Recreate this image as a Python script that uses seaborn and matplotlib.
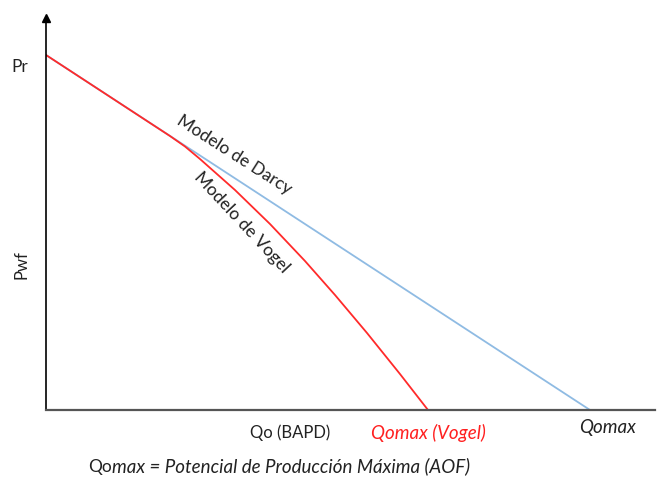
import matplotlib
matplotlib.use("Agg")
import matplotlib.pyplot as plt
import seaborn as sns
import pandas as pd

# Data (relative units: Pr = 100, Darcy Qomax = 100)
darcy_q = [0, 100]
darcy_p = [100, 0]
vogel_q = [0, 9.93, 19.12, 22.79, 25.55, 28.31, 34.74, 41.18, 47.61, 53.13, 59.01, 65.07, 70.22]
vogel_p = [100, 90.06, 80.85, 77.18, 74.23, 70.70, 61.97, 52.39, 41.97, 32.39, 21.69, 10.14, 0]

df = pd.concat([
    pd.DataFrame({"q": darcy_q, "p": darcy_p, "modelo": "Darcy"}),
    pd.DataFrame({"q": vogel_q, "p": vogel_p, "modelo": "Vogel"}),
])

sns.set_theme(style="white")
plt.rcParams["font.family"] = ["Lato", "DejaVu Sans"]

W, H = 657, 480
fig = plt.figure(figsize=(W / 100, H / 100), dpi=100)
ax = fig.add_axes([46 / W, 1 - 410 / H, (655 - 46) / W, (410 - 18) / H])

sns.lineplot(data=df, x="q", y="p", hue="modelo", sort=False,
             palette={"Darcy": "#8fbbe3", "Vogel": "#ff2a2a"},
             linewidth=1.3, legend=False, ax=ax, estimator=None)

ax.set_xlim(0, (655 - 46) / 5.44)
ax.set_ylim(0, (410 - 18) / 3.55)
ax.set_xticks([])
ax.set_yticks([])
ax.set_xlabel("")
ax.set_ylabel("")
for s in ["top", "right"]:
    ax.spines[s].set_visible(False)
ax.spines["left"].set_color("#000000")
ax.spines["left"].set_linewidth(1.2)
ax.spines["bottom"].set_color("#555555")
ax.spines["bottom"].set_linewidth(1.6)
ax.plot([0], [1], marker="^", color="black", markersize=6,
        transform=ax.transAxes, clip_on=False)

def ft(x, y, s, **kw):
    return fig.text(x / W, 1 - y / H, s, **kw)

fs = 12
fi = 13.5
ft(20, 67, "Pr", ha="center", va="center", fontsize=12.5, color="#222222")
ft(22, 265, "Pwf", ha="center", va="center", fontsize=fs, rotation=90, color="#222222")
ft(290, 433, "Qo (BAPD)", ha="center", va="center", fontsize=fs, color="#222222")
ft(428, 433, "Qomax (Vogel)", ha="center", va="center", fontsize=fi,
   style="italic", color="#ff2020")
ft(608, 428, "Qomax", ha="center", va="center", fontsize=fi, style="italic",
   color="#222222")
t = ft(88, 467, "Qo", ha="left", va="baseline", fontsize=12.5, color="#222222")
t.set_y(1 - 472 / H)
ax.annotate("max = Potencial de Producción Máxima (AOF)", xy=(1, 0), xycoords=t,
            ha="left", va="bottom", fontsize=fi, style="italic",
            color="#222222", annotation_clip=False)
ft(234, 155, "Modelo de Darcy", ha="center", va="center", fontsize=12.5,
   rotation=-32.5, rotation_mode="anchor", color="#222222")
ft(242, 222, "Modelo de Vogel", ha="center", va="center", fontsize=12.5,
   rotation=-47, rotation_mode="anchor", color="#222222")

fig.savefig("out.png", dpi=100)
